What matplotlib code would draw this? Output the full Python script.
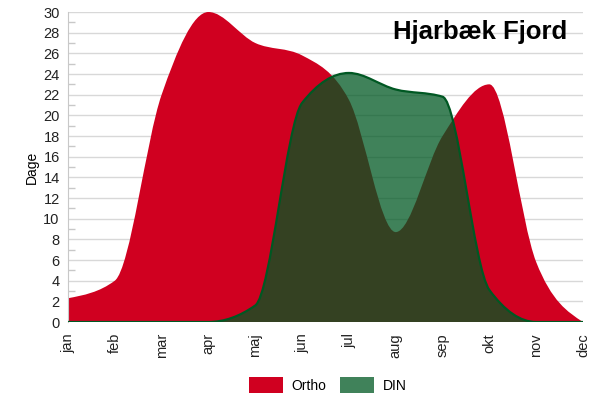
import numpy as np
import matplotlib
matplotlib.use("Agg")
import matplotlib.pyplot as plt
from matplotlib.path import Path
from matplotlib.patches import PathPatch, Patch

plt.rcParams['font.family'] = ['Liberation Sans', 'DejaVu Sans']

# data
months = ['jan', 'feb', 'mar', 'apr', 'maj', 'jun', 'jul', 'aug', 'sep', 'okt', 'nov', 'dec']
ortho = [2.3, 4.0, 22.0, 30.0, 27.0, 25.8, 21.5, 8.7, 18.0, 23.0, 5.8, 0.0]
din = [0.0, 0.0, 0.0, 0.0, 1.6, 21.2, 24.1, 22.5, 21.8, 3.1, 0.0, 0.0]

red = '#d00020'
green = '#005823'


def sgn(v):
    return -1.0 if v < 0 else 1.0


def spline_verts(xs, ys):
    # monotone cubic curve through the points (no overshoot)
    n = len(xs)
    t = [0.0] * n
    for i in range(1, n - 1):
        h0 = xs[i] - xs[i - 1]
        h1 = xs[i + 1] - xs[i]
        s0 = (ys[i] - ys[i - 1]) / h0
        s1 = (ys[i + 1] - ys[i]) / h1
        p = (s0 * h1 + s1 * h0) / (h0 + h1)
        t[i] = (sgn(s0) + sgn(s1)) * min(abs(s0), abs(s1), 0.5 * abs(p))
    t[0] = (3 * (ys[1] - ys[0]) / (xs[1] - xs[0]) - t[1]) / 2
    t[-1] = (3 * (ys[-1] - ys[-2]) / (xs[-1] - xs[-2]) - t[-2]) / 2
    verts = [(xs[0], ys[0])]
    codes = [Path.MOVETO]
    for i in range(1, n):
        dx = (xs[i] - xs[i - 1]) / 3
        verts += [(xs[i - 1] + dx, ys[i - 1] + dx * t[i - 1]),
                  (xs[i] - dx, ys[i] - dx * t[i]),
                  (xs[i], ys[i])]
        codes += [Path.CURVE4] * 3
    return verts, codes


def area(ax, xs, ys, face, alpha, edge, z):
    verts, codes = spline_verts(xs, ys)
    fv = verts + [(xs[-1], 0), (xs[0], 0), (xs[0], ys[0])]
    fc = codes + [Path.LINETO, Path.LINETO, Path.CLOSEPOLY]
    ax.add_patch(PathPatch(Path(fv, fc), facecolor=face, alpha=alpha, edgecolor='none', zorder=z))
    if edge:
        ax.add_patch(PathPatch(Path(verts, codes), facecolor='none', edgecolor=edge, lw=1.6, zorder=z + 0.1))


fig = plt.figure(figsize=(5.93, 4.0), dpi=100)
ax = fig.add_axes([68 / 593, 78 / 400, 515 / 593, 310 / 400])

x = np.arange(len(months))
area(ax, x, ortho, red, 1.0, None, 2)
area(ax, x, din, green, 0.75, green, 3)

ax.set_xlim(0, len(months) - 1)
ax.set_ylim(0, 30)
ax.set_yticks(np.arange(0, 31, 2))
ax.set_yticks(np.arange(1, 30, 2), minor=True)
ax.set_xticks(x)
ax.set_xticklabels(months, rotation=90, fontsize=10.5, color='#222222')
ax.tick_params(axis='y', which='major', length=0, labelsize=10.5, labelcolor='#222222', pad=6)
ax.tick_params(axis='y', which='minor', length=5, direction='in', color='#c8c8c8', width=1)
ax.tick_params(axis='x', length=0, pad=8)
ax.grid(axis='y', which='major', color='#d8d8d8', lw=1, zorder=0)
ax.set_axisbelow(True)
for s in ['top', 'right', 'bottom']:
    ax.spines[s].set_visible(False)
ax.spines['left'].set_color('#c8c8c8')

ax.set_ylabel('Dage', fontsize=10, labelpad=3)
ax.text(0.97, 0.935, 'Hjarbæk Fjord', transform=ax.transAxes, ha='right', va='center',
        fontsize=18.5, fontweight='bold', zorder=10)

handles = [Patch(facecolor=red, edgecolor='none', label='Ortho'),
           Patch(facecolor=green, alpha=0.75, edgecolor='none', label='DIN')]
fig.legend(handles=handles, loc='center', bbox_to_anchor=(0.553, 0.0375), ncol=2,
           frameon=False, fontsize=10, handlelength=2.45, handleheight=1.5,
           columnspacing=1.0, handletextpad=0.6)

fig.savefig('out.png', dpi=100)
